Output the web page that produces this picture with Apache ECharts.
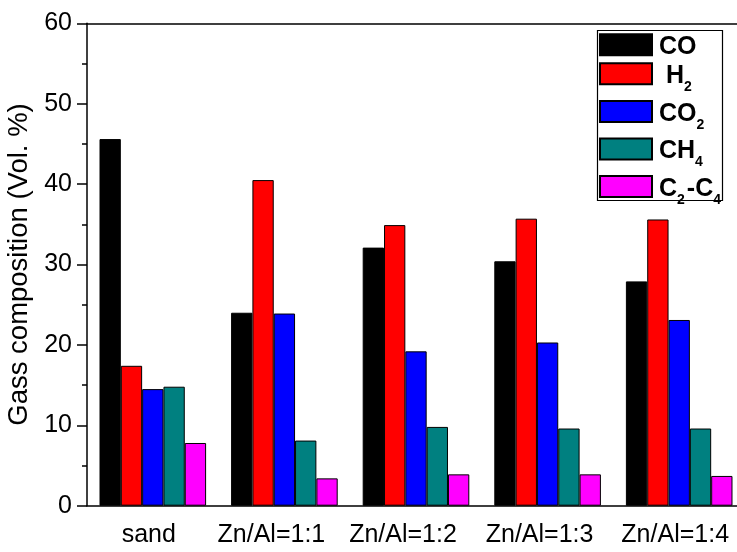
<!DOCTYPE html>
<html>
<head>
<meta charset="utf-8">
<script src="https://cdn.jsdelivr.net/npm/echarts@6/dist/echarts.min.js"></script>
<style>html,body{margin:0;padding:0;background:#fff}#c{width:737px;height:552px}</style>
</head>
<body>
<div id="c"></div>
<script>
const categories = ['sand', 'Zn/Al=1:1', 'Zn/Al=1:2', 'Zn/Al=1:3', 'Zn/Al=1:4'];
const coValues = [45.6, 24.0, 32.1, 30.4, 27.9];
const h2Values = [17.4, 40.5, 34.9, 35.7, 35.6];
const co2Values = [14.5, 23.9, 19.2, 20.3, 23.1];
const ch4Values = [14.8, 8.1, 9.8, 9.6, 9.6];
const c2c4Values = [7.8, 3.4, 3.9, 3.9, 3.7];
const seriesNames = ['CO', 'H2', 'CO2', 'CH4', 'C2-C4'];
const seriesColors = ['#000000', '#ff0000', '#0000ff', '#008080', '#ff00ff'];
const legendText = {
  'CO': '{m|CO}',
  'H2': '{m| H}{s|2}',
  'CO2': '{m|CO}{s|2}',
  'CH4': '{m|CH}{s|4}',
  'C2-C4': '{m|C}{s|2}{m|-C}{s|4}'
};
const yTickValues = { min: 0, max: 60, interval: 10 };

const FONT = 'Liberation Sans, Arial, sans-serif';
const chart = echarts.init(document.getElementById('c'), null, { renderer: 'canvas' });
const allValues = [coValues, h2Values, co2Values, ch4Values, c2c4Values];

// small horizontal label nudges seen in the reference (pixels, negative = left)
const labelNudge = [-4, -13, -13, -8, -4];
const xAxisData = categories.map((c, i) => ({
  value: c,
  textStyle: { padding: labelNudge[i] < 0 ? [0, -2 * labelNudge[i], 0, 0] : [0, 0, 0, 2 * labelNudge[i]] }
}));

const legendRich = {
  m: { fontSize: 25, fontWeight: 'bold', fontFamily: FONT, color: '#000', lineHeight: 26, verticalAlign: 'top', padding: [3, 0, 11, 2] },
  s: { fontSize: 14, fontWeight: 'bold', fontFamily: FONT, color: '#000', lineHeight: 14, verticalAlign: 'top', padding: [19.5, 0, 6.5, 0] }
};
const legendCommon = {
  orient: 'vertical',
  icon: 'rect',
  itemWidth: 52,
  itemHeight: 21,
  padding: 0,
  left: 599,
  selectedMode: false,
  formatter: n => legendText[n],
  textStyle: { rich: legendRich }
};

const axisLineStyle = { color: '#000', width: 1.5 };

const option = {
  backgroundColor: '#fff',
  animation: false,
  grid: { left: 87, top: 23.3, width: 658, height: 482.4, containLabel: false, outerBoundsMode: 'none' },
  legend: [
    Object.assign({}, legendCommon, { data: ['CO'], top: 31.8 }),
    Object.assign({}, legendCommon, { data: ['H2', 'CO2', 'CH4', 'C2-C4'], top: 60.8, itemGap: -2.4 })
  ],
  graphic: [{
    type: 'rect', left: 595, top: 28, z: 10, silent: true,
    shape: { width: 125, height: 170 },
    style: { fill: 'none', stroke: '#000', lineWidth: 1.2 }
  }],
  xAxis: [
    {
      type: 'category', data: xAxisData, position: 'bottom',
      axisLine: { lineStyle: axisLineStyle },
      axisTick: { alignWithLabel: true, length: 10, lineStyle: axisLineStyle },
      axisLabel: { fontSize: 25, color: '#000', fontFamily: FONT, margin: 17, interval: 0 }
    },
    {
      type: 'category', data: categories, position: 'bottom',
      axisLine: { show: false },
      axisTick: { length: 5, lineStyle: axisLineStyle },
      axisLabel: { show: false }
    },
    {
      type: 'category', data: categories, position: 'top',
      axisLine: { lineStyle: axisLineStyle },
      axisTick: { inside: true, alignWithLabel: true, length: 4, lineStyle: axisLineStyle },
      axisLabel: { show: false }
    },
    {
      type: 'category', data: categories, position: 'top',
      axisLine: { show: false },
      axisTick: { inside: true, length: 3, lineStyle: axisLineStyle },
      axisLabel: { show: false }
    }
  ],
  yAxis: {
    type: 'value', min: yTickValues.min, max: yTickValues.max, interval: yTickValues.interval,
    name: 'Gass composition (Vol. %)', nameLocation: 'middle', nameGap: 54, nameMoveOverlap: false,
    nameTextStyle: { fontSize: 27.5, color: '#000', fontFamily: FONT },
    axisLine: { show: true, lineStyle: axisLineStyle },
    axisTick: { show: true, length: 10, lineStyle: axisLineStyle },
    minorTick: { show: true, splitNumber: 2, length: 5, lineStyle: axisLineStyle },
    splitLine: { show: false },
    axisLabel: { fontSize: 25, color: '#000', fontFamily: FONT, margin: 15 }
  },
  series: seriesNames.map((name, i) => ({
    name: name,
    type: 'bar',
    xAxisIndex: 0,
    data: allValues[i],
    barGap: '0%',
    barCategoryGap: '19%',
    itemStyle: { color: seriesColors[i], borderColor: '#000', borderWidth: 1 }
  }))
};
chart.setOption(option);
</script>
</body>
</html>
